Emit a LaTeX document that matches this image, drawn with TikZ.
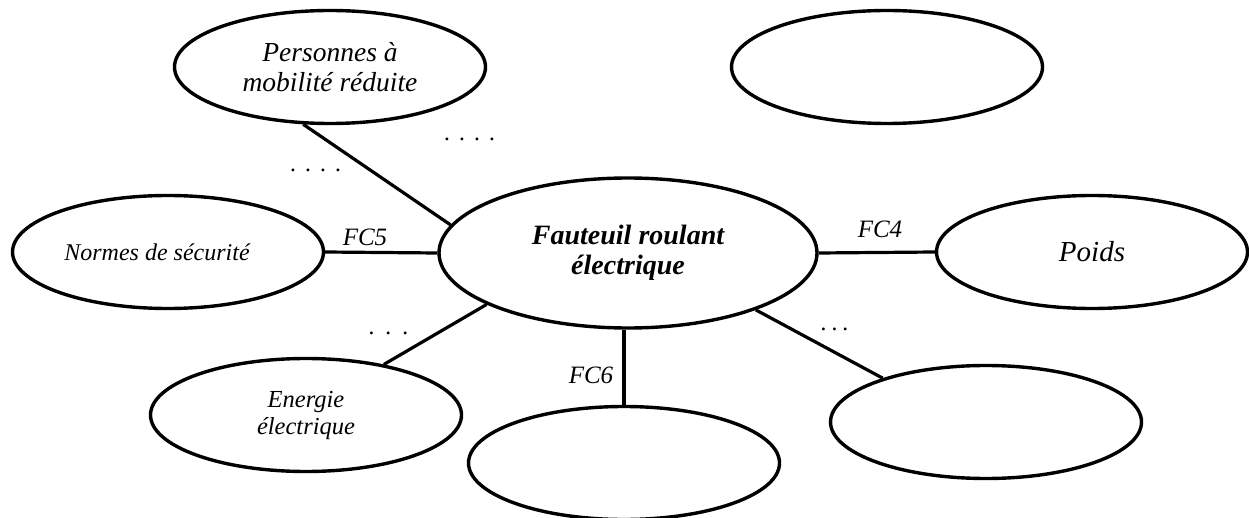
\documentclass[tikz,border=0pt]{standalone}
\usepackage{fontspec}
\setmainfont{Liberation Serif}
\usetikzlibrary{shapes.geometric}
\tikzset{
  oval/.style={draw, shape=ellipse, line width=3.4pt, inner sep=0pt,
    minimum width=311pt, minimum height=113pt, align=center},
  link/.style={line width=3.2pt},
  lbl/.style={font=\fontsize{25}{28}\selectfont\itshape, inner sep=0pt},
  dots/.style={font=\fontsize{24}{26}\selectfont\itshape, inner sep=0pt}
}
\newcommand{\sdot}[1]{\hspace{#1}.}
\begin{document}
\begin{tikzpicture}[x=1pt,y=-1pt]
\useasboundingbox (0,0) rectangle (1249,518);
\node[oval, minimum width=378pt, minimum height=150pt,
  font=\fontsize{28}{30}\selectfont\bfseries\itshape] (fa) at (628,253)
  {Fauteuil roulant\\électrique};
\node[oval, font=\fontsize{27.5}{30}\selectfont\itshape] (pers) at (330,67)
  {Personnes à\\mobilité réduite};
\node[oval] (vide1) at (887,67) {};
\node[oval, font=\fontsize{24}{27}\selectfont\itshape] (norm) at (168,252)
  {Normes de sécurité\hspace{22pt}};
\node[oval, font=\fontsize{29}{30}\selectfont\itshape] (poids) at (1092,252)
  {Poids};
\node[oval, font=\fontsize{24.5}{27}\selectfont\itshape] (ener) at (306,415)
  {Energie\\électrique};
\node[oval] (bas) at (624,463) {};
\node[oval] (basd) at (986,422) {};

\draw[link] (pers.245) -- (fa.171);
\draw[link] (norm.east) -- (fa.west);
\draw[link] (fa.east) -- (poids.west);
\draw[link] (ener.33) -- (fa.200);
\draw[link] (bas.north) -- (bas.north |- fa.south);
\draw[link] (fa.336) -- (basd.157);

\node[lbl] (fc5) at (365,237) {FC5};
\node[lbl] (fc4) at (880,229) {FC4};
\node[lbl] (fc6) at (591,375) {FC6};
\node[dots] (d1) at (316,170) {.\sdot{9pt}\sdot{9pt}\sdot{9pt}};
\node[dots] (d2) at (470,139) {.\sdot{9pt}\sdot{9pt}\sdot{9pt}};
\node[dots] (d3) at (389,333) {.\sdot{11pt}\sdot{11pt}};
\node[dots] (d4) at (835,329) {.\sdot{5pt}\sdot{5pt}};
\end{tikzpicture}
\end{document}
